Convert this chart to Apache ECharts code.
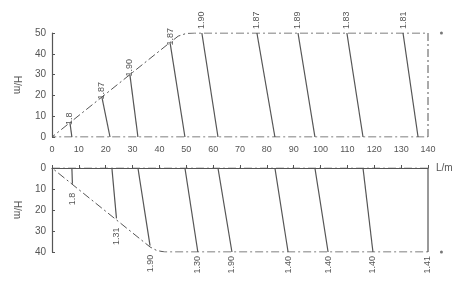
<!DOCTYPE html>
<html>
<head>
<meta charset="utf-8">
<script src="https://cdn.jsdelivr.net/npm/echarts@6/dist/echarts.min.js"></script>
<style>
    html, body { margin: 0; padding: 0; background: #fff; }
    #chart { width: 461px; height: 285px; }
</style>
</head>
<body>
<div id="chart"></div>
<script>
// 上部：起点在顶部(或斜坡上)，终点在底部
var topNames = ['1.8', '1.87', '1.90', '1.87', '1.90', '1.87', '1.89', '1.83', '1.81'];
var topStartX = [6.7, 18.6, 29, 44, 55.8, 76.3, 91.6, 109.8, 130.7];
var topStartH = [6.7, 19, 30, 45, 50, 50, 50, 50, 50];
var topEndX = [7.4, 21.6, 32, 49.5, 61.8, 83, 97.9, 115.8, 136.3];

// 下部：起点在0，终点向下
var bottomNames = ['1.8', '1.31', '1.90', '1.30', '1.90', '1.40', '1.40', '1.40', '1.41'];
var bottomStartX = [7.4, 22.3, 32, 49.5, 61.8, 83, 97.9, 115.8, 140];
var bottomEndX = [7.6, 24, 36.5, 54.3, 67, 87.9, 102.8, 119.5, 140];
var bottomEndH = [7.5, 24, 37, 40, 40, 40, 40, 40, 40];

// 边界（点划线）
var topBorderX = [140, 140, 53, 50, 47, 44, 0, 140];
var topBorderH = [0, 50, 50, 49.8, 48.5, 45.5, 0, 0];
var bottomBorderX = [140, 0, 36.5, 39, 42, 140];
var bottomBorderH = [0, 0, 37.6, 39.3, 40, 40];

var xTicks = [0, 10, 20, 30, 40, 50, 60, 70, 80, 90, 100, 110, 120, 130, 140];

var lineColor = '#555';
var textColor = '#555';
var dashDot = [8, 3, 2, 3];

var zip = function (xs, ys) {
    var out = [];
    for (var i = 0; i < xs.length; i++) {
        out.push([xs[i], ys[i]]);
    }
    return out;
};

var buildSeries = function () {
    var series = [];
    series.push({
        type: 'line', xAxisIndex: 0, yAxisIndex: 0, symbol: 'none', silent: true,
        data: zip(topBorderX, topBorderH),
        lineStyle: {color: lineColor, width: 1, type: dashDot}
    });
    series.push({
        type: 'line', xAxisIndex: 1, yAxisIndex: 1, symbol: 'none', silent: true,
        data: zip(bottomBorderX, bottomBorderH),
        lineStyle: {color: lineColor, width: 1, type: dashDot}
    });
    for (var i = 0; i < topNames.length; i++) {
        var onSlope = topStartH[i] < 50;
        series.push({
            type: 'line', xAxisIndex: 0, yAxisIndex: 0, symbol: 'circle', symbolSize: 0,
            showSymbol: true, silent: true,
            data: [{
                value: [topStartX[i], topStartH[i]],
                label: {
                    show: true, formatter: topNames[i], position: 'top', distance: 4,
                    rotate: 90, align: 'left', verticalAlign: 'middle',
                    offset: onSlope ? [-6, 0] : [0, 0],
                    color: textColor, fontSize: 9, fontFamily: 'Liberation Sans'
                }
            }, [topEndX[i], 0]],
            lineStyle: {color: lineColor, width: 1.2}
        });
    }
    for (var j = 0; j < bottomNames.length; j++) {
        series.push({
            type: 'line', xAxisIndex: 1, yAxisIndex: 1, symbol: 'circle', symbolSize: 0,
            showSymbol: true, silent: true,
            data: [[bottomStartX[j], 0], {
                value: [bottomEndX[j], bottomEndH[j]],
                label: {
                    show: true, formatter: bottomNames[j], position: 'bottom', distance: 4,
                    rotate: 90, align: 'right', verticalAlign: 'middle',
                    offset: bottomEndH[j] < 40 ? [-5, 0] : [0, 0],
                    color: textColor, fontSize: 9, fontFamily: 'Liberation Sans'
                }
            }],
            lineStyle: {color: lineColor, width: 1.2}
        });
    }
    series.push({
        type: 'scatter', xAxisIndex: 0, yAxisIndex: 0, symbolSize: 3, clip: false, silent: true,
        data: [[145, 50]], itemStyle: {color: lineColor}
    });
    series.push({
        type: 'scatter', xAxisIndex: 1, yAxisIndex: 1, symbolSize: 3, clip: false, silent: true,
        data: [[145, 40]], itemStyle: {color: lineColor}
    });
    return series;
};

var yAxisBase = function (idx, max, name) {
    return {
        type: 'value', gridIndex: idx, min: 0, max: max, interval: 10,
        inverse: idx === 1,
        name: name, nameLocation: 'middle', nameGap: 30, nameRotate: -90,
        nameTextStyle: {color: textColor, fontSize: 10, fontFamily: 'Liberation Sans'},
        axisLine: {show: true, lineStyle: {color: lineColor, width: 1.2}},
        axisTick: {show: true, inside: true, length: 3, lineStyle: {color: lineColor}},
        axisLabel: {color: textColor, fontSize: 10, margin: 6, fontFamily: 'Liberation Sans'},
        splitLine: {show: false}
    };
};

var chart = echarts.init(document.getElementById('chart'));
chart.setOption({
    animation: false,
    grid: [
        {left: 52, right: 33, top: 33, height: 104},
        {left: 52, right: 33, top: 168, height: 84}
    ],
    xAxis: [{
        type: 'value', gridIndex: 0, min: 0, max: 140, interval: 10, show: false
    }, {
        type: 'value', gridIndex: 1, min: 0, max: 140, interval: 10,
        position: 'top', offset: 11,
        name: 'L/m', nameLocation: 'end', nameGap: 8,
        nameTextStyle: {color: textColor, fontSize: 10, fontFamily: 'Liberation Sans'},
        axisLine: {show: true, lineStyle: {color: lineColor, width: 1.2}},
        axisTick: {show: true, length: 3, lineStyle: {color: lineColor}},
        axisLabel: {color: textColor, fontSize: 9, margin: 3, fontFamily: 'Liberation Sans',
            formatter: function (v) { return xTicks.indexOf(v) >= 0 ? String(v) : ''; }},
        splitLine: {show: false}
    }],
    yAxis: [yAxisBase(0, 50, 'H/m'), yAxisBase(1, 40, 'H/m')],
    series: buildSeries()
});
</script>
</body>
</html>
